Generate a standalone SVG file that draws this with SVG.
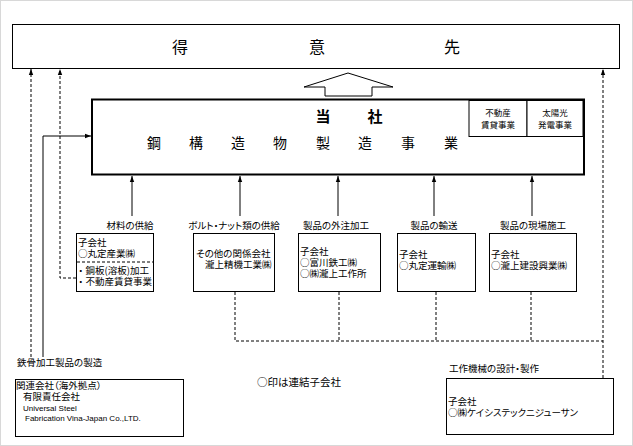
<svg xmlns="http://www.w3.org/2000/svg" width="633" height="446" viewBox="0 0 633 446">
<defs>
<style>
text{font-family:"Noto Sans CJK JP","Liberation Sans",sans-serif;fill:#000;font-feature-settings:"palt"}
.bx{fill:#fff;stroke:#000;stroke-width:1}
.ln{fill:none;stroke:#000;stroke-width:1}
.ds{fill:none;stroke:#000;stroke-width:1;stroke-dasharray:3,2}
.s{font-size:9.5px}
.np{font-feature-settings:normal}
.lab{font-size:9.5px;text-anchor:middle}
.sm{font-size:8.5px;text-anchor:middle}
.en{font-family:"Liberation Sans",sans-serif;font-size:8px}
.big{font-size:16px;text-anchor:middle}
</style>
<marker id="ah" viewBox="0 0 6 6" refX="6" refY="3" markerWidth="6" markerHeight="6" orient="auto" markerUnits="userSpaceOnUse">
<path d="M0,0.8 L6,3 L0,5.2 Z" fill="#000"/>
</marker>
</defs>
<rect x="0" y="0" width="633" height="446" fill="#fff"/>
<rect x="0.5" y="0.5" width="632" height="445" fill="none" stroke="#d8d8d8"/>

<g id="customer">
<rect class="bx" x="12.5" y="24.5" width="607" height="44"/>
<text class="big" x="180" y="53">得</text>
<text class="big" x="317" y="53">意</text>
<text class="big" x="452" y="53">先</text>
</g>

<g id="bigarrow">
<polygon points="304,87 348,73 393,87 372,87 372,96 325,96 325,87" fill="#fff" stroke="#000" stroke-width="1"/>
</g>

<g id="company">
<rect x="92" y="99.5" width="492" height="75" fill="#fff" stroke="#000" stroke-width="2"/>
<text x="323" y="122" font-size="15" font-weight="bold" text-anchor="middle">当</text>
<text x="375" y="122" font-size="15" font-weight="bold" text-anchor="middle">社</text>
<g font-size="14" text-anchor="middle">
<text x="154" y="148">鋼</text>
<text x="196" y="148">構</text>
<text x="238" y="148">造</text>
<text x="280" y="148">物</text>
<text x="323" y="148">製</text>
<text x="365" y="148">造</text>
<text x="408" y="148">事</text>
<text x="451" y="148">業</text>
</g>
</g>
<g id="realestate">
<rect class="bx" x="469" y="100.5" width="58" height="36"/>
<text class="sm" x="498" y="116">不動産</text>
<text class="sm" x="498" y="128">賃貸事業</text>
</g>
<g id="solar">
<rect class="bx" x="527" y="100.5" width="56" height="36"/>
<text class="sm" x="555" y="116">太陽光</text>
<text class="sm" x="555" y="128">発電事業</text>
</g>

<g id="materials">
<text class="lab" x="130" y="229">材料の供給</text>
<rect class="bx" x="76.5" y="233.5" width="77" height="58"/>
<line class="ds" x1="77" y1="262" x2="153" y2="262"/>
<text class="s" x="78" y="246">子会社</text>
<text class="s" x="78" y="257">○丸定産業㈱</text>
<text class="s np" x="76" y="274" font-size="9px">・鋼板(溶板)加工</text>
<text class="s np" x="76" y="285" font-size="9px">・不動産賃貸事業</text>
</g>

<g id="bolts">
<text class="lab" x="234" y="229">ボルト・ナット類の供給</text>
<rect class="bx" x="193.5" y="233.5" width="81" height="58"/>
<text class="s" x="196" y="257">その他の関係会社</text>
<text class="s" x="205" y="268">瀧上精機工業㈱</text>
</g>

<g id="outsource">
<text class="lab" x="336" y="229">製品の外注加工</text>
<rect class="bx" x="298.5" y="233.5" width="82" height="58"/>
<text class="s" x="300" y="255">子会社</text>
<text class="s" x="300" y="266">○富川鉄工㈱</text>
<text class="s" x="300" y="277">○㈱瀧上工作所</text>
</g>

<g id="transport">
<text class="lab" x="434" y="229">製品の輸送</text>
<rect class="bx" x="397.5" y="233.5" width="78" height="58"/>
<text class="s" x="399" y="258">子会社</text>
<text class="s" x="399" y="269">○丸定運輸㈱</text>
</g>

<g id="construction">
<text class="lab" x="533" y="229">製品の現場施工</text>
<rect class="bx" x="489.5" y="233.5" width="87" height="58"/>
<text class="s" x="491" y="258">子会社</text>
<text class="s" x="491" y="269">○瀧上建設興業㈱</text>
</g>

<g id="overseas">
<text class="s" x="17" y="366">鉄骨加工製品の製造</text>
<rect class="bx" x="15.5" y="379.5" width="168" height="57"/>
<text class="s" x="16" y="389">関連会社（海外拠点）</text>
<text class="s" x="23" y="400">有限責任会社</text>
<text class="en" x="23" y="411">Universal Steel</text>
<text class="en" x="25" y="421">Fabrication Vina-Japan Co.,LTD.</text>
</g>

<g id="note">
<text x="257" y="386" font-size="10.5">○印は連結子会社</text>
</g>

<g id="machine">
<text class="s" x="449" y="372">工作機械の設計・製作</text>
<rect class="bx" x="446.5" y="378.5" width="167" height="56"/>
<text class="s" x="448" y="405">子会社</text>
<text class="s" x="448" y="416">○㈱ケイシステックニジューサン</text>
</g>

<g id="connectors">
<line class="ds" x1="31" y1="357" x2="31" y2="69" marker-end="url(#ah)"/>
<polyline class="ds" points="76,278 60,278 60,69" marker-end="url(#ah)"/>
<polyline class="ln" points="43,357 43,136 91,136" marker-end="url(#ah)"/>
<line class="ln" x1="132" y1="216" x2="132" y2="176" marker-end="url(#ah)"/>
<line class="ln" x1="240" y1="216" x2="240" y2="176" marker-end="url(#ah)"/>
<line class="ln" x1="338" y1="216" x2="338" y2="176" marker-end="url(#ah)"/>
<line class="ln" x1="434" y1="216" x2="434" y2="176" marker-end="url(#ah)"/>
<line class="ln" x1="532" y1="216" x2="532" y2="176" marker-end="url(#ah)"/>
<polyline class="ds" points="235,292 235,341 603,341"/>
<line class="ds" x1="339" y1="292" x2="339" y2="341"/>
<line class="ds" x1="436" y1="292" x2="436" y2="341"/>
<line class="ds" x1="531" y1="292" x2="531" y2="341"/>
<line class="ds" x1="603" y1="378" x2="603" y2="69" marker-end="url(#ah)"/>
</g>
</svg>
